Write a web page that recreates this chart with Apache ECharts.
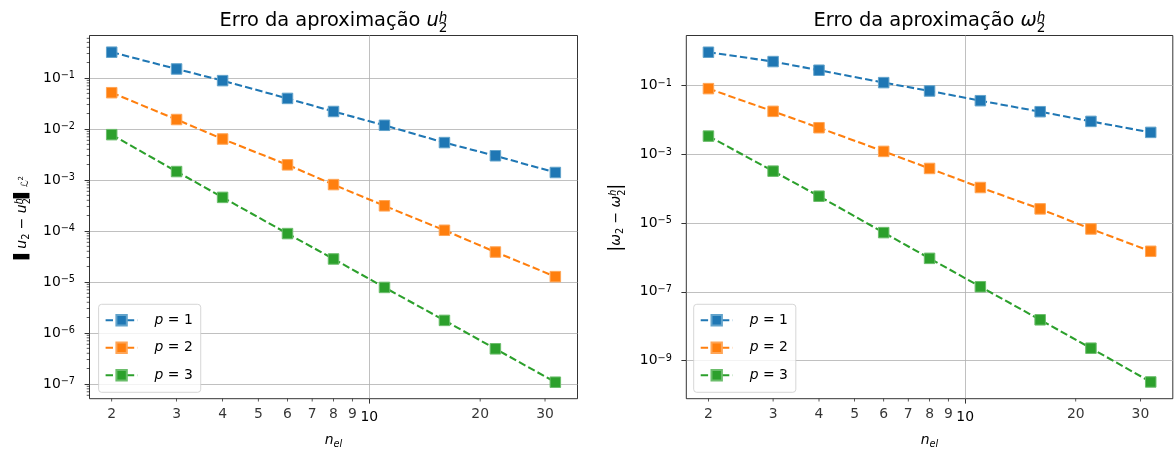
<!DOCTYPE html>
<html>
<head>
<meta charset="utf-8">
<script src="https://cdn.jsdelivr.net/npm/echarts@6/dist/echarts.min.js"></script>
<style>
    html, body { margin: 0; padding: 0; background: #fff; }
    #chart { width: 1175px; height: 453px; }
</style>
</head>
<body>
<div id="chart"></div>
<script>
'use strict';

// number of elements (x) and errors
var nEl = [2, 3, 4, 6, 8, 11, 16, 22, 32];
var errU1 = [0.32, 0.15, 0.0886, 0.0397, 0.022, 0.0118, 0.0054, 0.00298, 0.0014];
var errU2 = [0.0514, 0.0153, 0.00635, 0.00198, 0.00081, 0.000311, 1.03e-4, 3.86e-5, 1.27e-5];
var errU3 = [0.00773, 0.00146, 4.55e-4, 8.87e-5, 2.82e-5, 7.8e-6, 1.76e-6, 4.88e-7, 1.08e-7];
var errW1 = [0.914, 0.489, 0.274, 0.1197, 0.0684, 0.0357, 0.0171, 0.00893, 0.00428];
var errW2 = [0.080, 0.0175, 0.00585, 0.0012, 3.83e-4, 1.07e-4, 2.56e-5, 6.68e-6, 1.5e-6];
var errW3 = [0.00334, 3.2e-4, 5.98e-5, 5.23e-6, 9.35e-7, 1.4e-7, 1.53e-8, 2.29e-9, 2.39e-10];
var seriesNames = ['p = 1', 'p = 2', 'p = 3'];

// tick labels
var xMajorTicks = [10];
var xMinorTicks = [2, 3, 4, 5, 6, 7, 8, 9, 20, 30];
var yTicksU = [1e-1, 1e-2, 1e-3, 1e-4, 1e-5, 1e-6, 1e-7];
var yTicksW = [1e-1, 1e-3, 1e-5, 1e-7, 1e-9];

// axis ranges
var xRange = [1.741, 36.75];
var yRangeU = [5.13e-8, 0.68];
var yRangeW = [7.8e-11, 2.8];

var FONT = 'DejaVu Sans';
var colors = ['#1f77b4', '#ff7f0e', '#2ca02c'];
var edges = ['#62a3cb', '#ffa556', '#6bbd6b'];
var L = Math.log10;

var measureCtx = document.createElement('canvas').getContext('2d');
function textWidth(t, size, italic) {
    measureCtx.font = (italic ? 'italic ' : '') + size + 'px "' + FONT + '"';
    return measureCtx.measureText(t).width;
}

// parts: [text, scale, italic, rise (em), stack on previous]
function mathRow(parts, size, x, y, rotation) {
    var cx = 0, prevX = 0, children = [];
    parts.forEach(function (p) {
        var fs = size * p[1];
        var x0 = p[4] ? prevX : cx;
        children.push({
            type: 'text', x: x0, y: -p[3] * size - 0.32 * fs,
            style: {
                text: p[0], fontSize: fs, fontFamily: FONT, fontStyle: p[2] ? 'italic' : 'normal',
                fill: '#000', align: 'left', textAlign: 'left', verticalAlign: 'middle', textVerticalAlign: 'middle'
            }
        });
        prevX = x0;
        cx = Math.max(cx, x0 + textWidth(p[0], fs, p[2]));
    });
    children.forEach(function (c) { c.x -= cx / 2; });
    return {type: 'group', x: x, y: y, rotation: rotation || 0, silent: true, children: children};
}

function lineSeries(idx, values, gridIdx) {
    return {
        name: seriesNames[idx],
        type: 'line',
        xAxisIndex: gridIdx,
        yAxisIndex: gridIdx,
        data: nEl.map(function (n, i) { return [L(n), L(values[i])]; }),
        symbol: 'rect',
        symbolSize: 10.5,
        itemStyle: {color: colors[idx], borderColor: edges[idx], borderWidth: 1},
        lineStyle: {color: colors[idx], width: 2.08, type: [7.4, 3.2]},
        emphasis: {disabled: true},
        z: 3
    };
}

function xTickSeries(gridIdx, yMin) {
    return {
        type: 'scatter',
        xAxisIndex: gridIdx,
        yAxisIndex: gridIdx,
        silent: true,
        clip: false,
        z: 5,
        data: xMinorTicks.map(function (t) { return [L(t), L(yMin)]; }),
        symbol: 'rect',
        symbolSize: [0.8, 2.8],
        symbolOffset: [0, 1.4],
        itemStyle: {color: '#000'},
        label: {
            show: true,
            position: 'bottom',
            distance: 6.3,
            fontFamily: FONT,
            fontSize: 13.9,
            color: '#000',
            formatter: function (p) { return String(xMinorTicks[p.dataIndex]); }
        }
    };
}

function yMinorTickSeries(gridIdx, range, xMin) {
    var data = [];
    for (var e = -9; e <= 0; e++) {
        for (var k = 2; k <= 9; k++) {
            var v = L(k) + e;
            if (v > L(range[0]) && v < L(range[1])) data.push([L(xMin), v]);
        }
    }
    return {
        type: 'scatter',
        xAxisIndex: gridIdx,
        yAxisIndex: gridIdx,
        silent: true,
        clip: false,
        z: 5,
        data: data,
        symbol: 'rect',
        symbolSize: [2.8, 0.8],
        symbolOffset: [-1.4, 0],
        itemStyle: {color: '#000'}
    };
}

function xAxisOf(gridIdx) {
    return {
        type: 'value',
        gridIndex: gridIdx,
        min: L(xRange[0]),
        max: L(xRange[1]),
        axisLine: {show: false, onZero: false},
        axisTick: {show: true, customValues: xMajorTicks.map(L), length: 4.9, lineStyle: {color: '#000', width: 0.8}},
        axisLabel: {
            customValues: xMajorTicks.map(L),
            margin: 11.5,
            fontFamily: FONT,
            fontSize: 13.9,
            color: '#000',
            formatter: function (v) { return String(Math.round(Math.pow(10, v))); }
        },
        splitLine: {show: true, lineStyle: {color: '#b0b0b0', width: 0.8}}
    };
}

function yAxisOf(gridIdx, range, ticks) {
    return {
        type: 'value',
        gridIndex: gridIdx,
        min: L(range[0]),
        max: L(range[1]),
        axisLine: {show: false, onZero: false},
        axisTick: {show: true, customValues: ticks.map(L), length: 4.9, lineStyle: {color: '#000', width: 0.8}},
        axisLabel: {
            customValues: ticks.map(L),
            margin: 14.5,
            color: '#000',
            formatter: function (v) {
                var e = Math.round(v);
                return '{b|10}{s|' + (e < 0 ? '\u2212' : '') + Math.abs(e) + '}';
            },
            rich: {
                b: {fontFamily: FONT, fontSize: 13.9, lineHeight: 14, padding: [2, 0, 0, 0], verticalAlign: 'bottom', color: '#000'},
                s: {fontFamily: FONT, fontSize: 9.7, lineHeight: 10, verticalAlign: 'top', color: '#000'}
            }
        },
        splitLine: {show: true, lineStyle: {color: '#b0b0b0', width: 0.8}}
    };
}

function legendAt(left) {
    return {
        data: seriesNames,
        orient: 'vertical',
        left: left,
        top: 304.3,
        itemWidth: 32,
        itemHeight: 13,
        itemGap: 13.5,
        padding: [9, 8, 10, 6],
        backgroundColor: 'rgba(255,255,255,0.8)',
        borderColor: '#cccccc',
        borderWidth: 0.8,
        borderRadius: 3,
        selectedMode: false,
        formatter: function (name) { return '{i|p}{n|' + name.slice(1) + '}'; },
        textStyle: {
            fontFamily: FONT,
            fontSize: 13.9,
            color: '#000',
            rich: {
                i: {fontFamily: FONT, fontSize: 13.9, fontStyle: 'italic', color: '#000', padding: [0, 0, 0, 12]},
                n: {fontFamily: FONT, fontSize: 13.9, color: '#000'}
            }
        }
    };
}

var titleParts = function (sym) {
    return [['Erro da aproximação ', 1, false, 0], [sym, 1, true, 0], ['2', 0.7, false, -0.3], ['h', 0.7, true, 0.22, true]];
};
var yLabelU = [['\u258c', 1, false, 0], ['u', 1, true, 0], ['2', 0.7, false, -0.2], [' \u2212 ', 1, false, 0],
    ['u', 1, true, 0], ['2', 0.7, false, -0.3], ['h', 0.7, true, 0.3, true], ['\u258c', 1, false, 0],
    ['\u2112', 0.7, true, -0.15], ['2', 0.5, false, 0.25]];
var yLabelW = [['|', 1.3, false, -0.08], ['\u03c9', 1, true, 0], ['2', 0.7, false, -0.2], [' \u2212 ', 1, false, 0],
    ['\u03c9', 1, true, 0], ['2', 0.7, false, -0.3], ['h', 0.7, true, 0.3, true], ['|', 1.3, false, -0.08]];
var xLabel = [['n', 1, true, 0], ['el', 0.7, true, -0.22]];

var chart = echarts.init(document.getElementById('chart'), null, {renderer: 'canvas'});

var option = {
    animation: false,
    backgroundColor: '#fff',
    grid: [
        {left: 89.5, top: 35.5, width: 488, height: 363.2, show: true, borderColor: '#000', borderWidth: 0.8, backgroundColor: 'transparent'},
        {left: 686.3, top: 35.5, width: 486.5, height: 363.2, show: true, borderColor: '#000', borderWidth: 0.8, backgroundColor: 'transparent'}
    ],
    xAxis: [xAxisOf(0), xAxisOf(1)],
    yAxis: [yAxisOf(0, yRangeU, yTicksU), yAxisOf(1, yRangeW, yTicksW)],
    legend: [legendAt(98.6), legendAt(693.7)],
    series: [
        lineSeries(0, errU1, 0), lineSeries(1, errU2, 0), lineSeries(2, errU3, 0),
        lineSeries(0, errW1, 1), lineSeries(1, errW2, 1), lineSeries(2, errW3, 1),
        xTickSeries(0, yRangeU[0]), xTickSeries(1, yRangeW[0]),
        yMinorTickSeries(0, yRangeU, xRange[0])
    ],
    graphic: {
        elements: [
            mathRow(titleParts('u'), 19.4, 333.5, 26.7),
            mathRow(titleParts('\u03c9'), 19.4, 929.5, 26.7),
            mathRow(yLabelU, 13.9, 26.5, 217.7, Math.PI / 2),
            mathRow(yLabelW, 13.9, 621, 217.7, Math.PI / 2),
            mathRow(xLabel, 13.9, 333.5, 444.5),
            mathRow(xLabel, 13.9, 929.5, 444.5)
        ]
    }
};
chart.setOption(option);
</script>
</body>
</html>
